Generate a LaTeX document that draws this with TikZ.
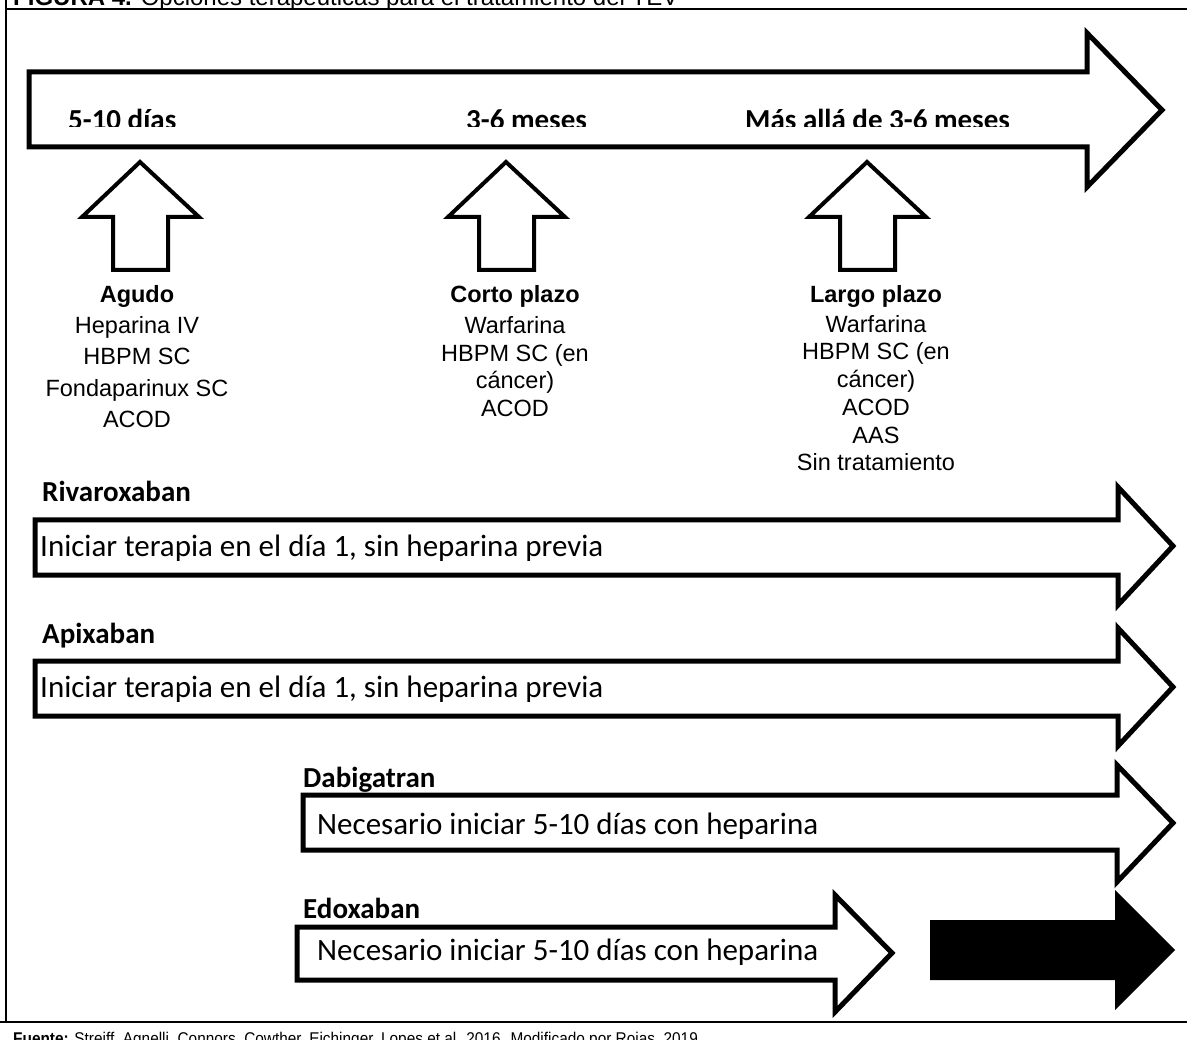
\documentclass[tikz,border=0pt]{standalone}
\usepackage{fontspec}
\usepackage{graphicx}
\setmainfont{Liberation Sans}
\newfontfamily\calibri{Carlito}
\begin{document}
\begin{tikzpicture}[x=1pt,y=-1pt,
  blk/.style={draw=black,line width=5pt,line join=miter,fill=white},
  blkfill/.style={draw=none,fill=black},
  uparr/.style={draw=black,line width=4pt,line join=miter,fill=white},
  frameline/.style={draw=black,line width=2.5pt},
  period/.style={anchor=base west,inner sep=0pt,font=\calibri\bfseries\fontsize{29}{34}\selectfont},
  drug/.style={anchor=base west,inner sep=0pt,font=\calibri\bfseries\fontsize{29}{34}\selectfont},
  atext/.style={anchor=base west,inner sep=0pt,font=\calibri\fontsize{31}{36}\selectfont},
  lst/.style={anchor=base,inner sep=0pt,font=\fontsize{23.5}{27}\selectfont},
  lsth/.style={anchor=base,inner sep=0pt,font=\bfseries\fontsize{23.5}{27}\selectfont},
]
\useasboundingbox (0,0) rectangle (1187,1040);
\clip (0,0) rectangle (1187,1040);

% frame
\draw[frameline] (6,9) -- (1187,9);
\draw[frameline] (6,0) -- (6,1022);
\draw[frameline] (0,1022) -- (1187,1022);

% title (cut by the top edge, as in the reference)
\node[anchor=base west,inner sep=0pt,font=\fontsize{24}{28}\selectfont] (title) at (13,6)
  {\textbf{FIGURA 4.} Opciones terapéuticas para el tratamiento del TEV};

% main timeline arrow
\draw[blk] (29,72) -- (1087,72) -- (1087,33) -- (1162,110) -- (1087,187) -- (1087,147) -- (29,147) -- cycle;
\begin{scope}
  \clip (0,0) rectangle (1187,127);
  \node[period] (p1) at (68,130) {5-10 días};
  \node[period] (p2) at (466,130) {3-6 meses};
  \node[period] (p3) at (745,130) {Más allá de 3-6 meses};
\end{scope}

% up arrows
\foreach \cx/\nm in {140/ua, 506/ub, 867/uc}{
  \draw[uparr] (\cx,162) -- (\cx+59,217) -- (\cx+28,217) -- (\cx+28,270)
     -- (\cx-27,270) -- (\cx-27,217) -- (\cx-58,217) -- cycle;
}

% Agudo column
\node[lsth] (a0) at (137,303) {Agudo};
\node[lst]  (a1) at (137,334) {Heparina IV};
\node[lst]  (a2) at (137,365) {HBPM SC};
\node[lst]  (a3) at (137,397) {Fondaparinux SC};
\node[lst]  (a4) at (137,428) {ACOD};

% Corto plazo column
\node[lsth] (b0) at (515,303) {Corto plazo};
\node[lst]  (b1) at (515,334) {Warfarina};
\node[lst]  (b2) at (515,362) {HBPM SC (en};
\node[lst]  (b3) at (515,389) {cáncer)};
\node[lst]  (b4) at (515,417) {ACOD};

% Largo plazo column
\node[lsth] (c0) at (876,303) {Largo plazo};
\node[lst]  (c1) at (876,333) {Warfarina};
\node[lst]  (c2) at (876,360) {HBPM SC (en};
\node[lst]  (c3) at (876,388) {cáncer)};
\node[lst]  (c4) at (876,416) {ACOD};
\node[lst]  (c5) at (876,444) {AAS};
\node[lst]  (c6) at (876,471) {Sin tratamiento};

% Rivaroxaban
\node[drug] (riv) at (42,502) {Rivaroxaban};
\draw[blk] (35,520) -- (1118,520) -- (1118,487) -- (1173,546) -- (1118,605) -- (1118,575) -- (35,575) -- cycle;
\node[atext] (rivt) at (40,556) {Iniciar terapia en el día 1, sin heparina previa};

% Apixaban
\node[drug] (api) at (42,643) {Apixaban};
\draw[blk] (35,661) -- (1118,661) -- (1118,628) -- (1173,687) -- (1118,746) -- (1118,716) -- (35,716) -- cycle;
\node[atext] (apit) at (40,697) {Iniciar terapia en el día 1, sin heparina previa};

% Dabigatran
\node[drug] (dab) at (303,787) {Dabigatran};
\draw[blk] (303,795) -- (1117,795) -- (1117,765) -- (1173,823) -- (1117,882) -- (1117,850) -- (303,850) -- cycle;
\node[atext] (dabt) at (317,834) {Necesario iniciar 5-10 días con heparina};

% Edoxaban
\node[drug] (edo) at (303,918) {Edoxaban};
\draw[blk] (297,927) -- (835,927) -- (835,895) -- (892,953) -- (835,1012) -- (835,980) -- (297,980) -- cycle;
\node[atext] (edot) at (317,960) {Necesario iniciar 5-10 días con heparina};
\fill[blkfill] (930,920) -- (1115,920) -- (1115,890) -- (1175,950) -- (1115,1010) -- (1115,980) -- (930,980) -- cycle;

% source (cut by the bottom edge, as in the reference)
\node[anchor=base west,inner sep=0pt,font=\fontsize{17}{20}\selectfont] (src) at (13,1044)
  {\scalebox{0.905}[1]{\textbf{Fuente:} Streiff, Agnelli, Connors, Cowther, Eichinger, Lopes et al. 2016. Modificado por Rojas, 2019.}};
\end{tikzpicture}
\end{document}
